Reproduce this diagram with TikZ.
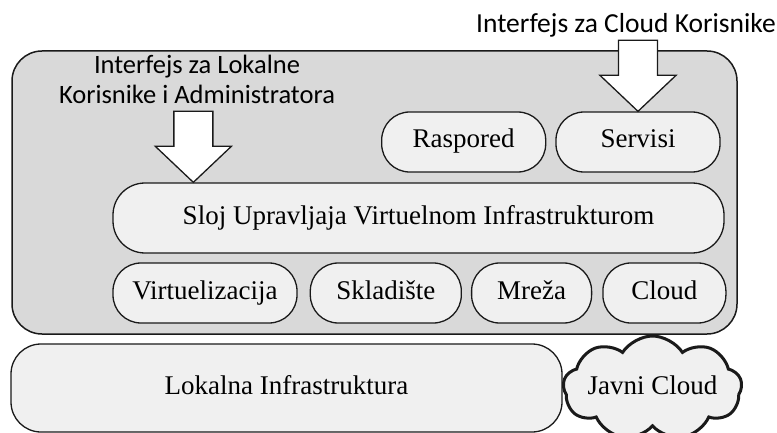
\documentclass[tikz,border=0pt]{standalone}
\usepackage{fontspec}
\setmainfont{Liberation Serif}
\newfontfamily\ifacefont{Carlito}
\usetikzlibrary{positioning,calc,shapes.symbols}
\definecolor{PanelGray}{HTML}{D9D9D9}
\definecolor{PillGray}{HTML}{F0F0F0}
\definecolor{EdgeDark}{HTML}{1A1A1A}
\newcommand{\ifacearrow}[1]{\draw[bigarr] (#1) -- ++(-38,-36) -- ++(18.5,0) -- ++(0,-35) -- ++(39,0) -- ++(0,35) -- ++(18.5,0) -- cycle;}

\begin{document}
\begin{tikzpicture}[x=1pt,y=-1pt,
    panel/.style={draw=EdgeDark,line width=1.5pt,fill=PanelGray,rounded corners=30pt,inner sep=0pt},
    pill/.style={draw=EdgeDark,line width=1.3pt,fill=PillGray,rounded corners=28pt,minimum height=60pt,inner sep=0pt,text height=18pt,text depth=6pt,font=\fontsize{27}{30}\selectfont},
    iface/.style={font=\ifacefont\fontsize{26.5}{30}\selectfont,align=center,inner sep=0pt},
    bigarr/.style={draw=EdgeDark,line width=1.3pt,fill=white,line join=miter}
  ]
    \useasboundingbox (0,0) rectangle (777,433);
    \node[panel,minimum width=725pt,minimum height=283pt] (mgmt) at (374.5,192.5) {};
    \node[pill,minimum width=164pt] (servisi) at (638,142) {Servisi};
    \node[pill,minimum width=164pt,left=9pt of servisi] (raspored) {Raspored};
    \node[pill,minimum width=611pt,minimum height=70pt,rounded corners=32pt] (sloj) at (418.5,218) {Sloj Upravljaja Virtuelnom Infrastrukturom};
    \node[pill,minimum width=184pt] (virt) at (205,293) {Virtuelizacija};
    \node[pill,minimum width=151pt,right=12pt of virt] (sklad) {Skladište};
    \node[pill,minimum width=120pt,right=9pt of sklad] (mreza) {Mreža};
    \node[pill,minimum width=123pt,right=10pt of mreza] (cloud) {Cloud};
    \node[pill,minimum width=551pt,minimum height=88pt,rounded corners=30pt] (lokalna) at (286.5,388) {Lokalna Infrastruktura};
    \node[cloud,draw=EdgeDark,line width=3pt,fill=PillGray,cloud puffs=9,cloud puff arc=115,cloud ignores aspect,minimum width=176pt,minimum height=104pt,inner sep=0pt,text height=18pt,text depth=6pt,font=\fontsize{27}{30}\selectfont] (javni) at (652.5,388) {Javni Cloud};
    \node[iface] (localif) at (197,79) {Interfejs za Lokalne\\Korisnike i Administratora};
    \node[iface,anchor=base,font=\ifacefont\fontsize{27.5}{30}\selectfont] (cloudif) at (626,33) {Interfejs za Cloud Korisnike};
    \coordinate (ltip) at ($(sloj.north west)+(81,0)$);
    \ifacearrow{ltip}
    \ifacearrow{servisi.north}
  \end{tikzpicture}
\end{document}
